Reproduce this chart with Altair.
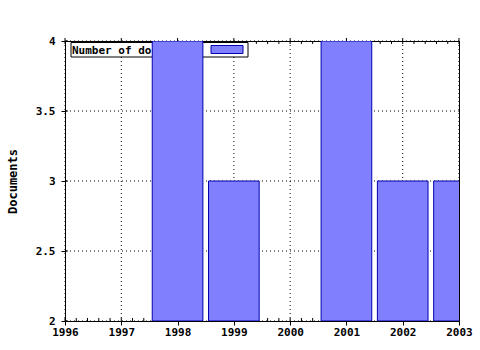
import altair as alt
import pandas as pd

years = [1998, 1999, 2001, 2002, 2003]
documents = [4, 3, 4, 3, 3]
x_ticks = [1996, 1997, 1998, 1999, 2000, 2001, 2002, 2003]
y_ticks = [2, 2.5, 3, 3.5, 4]
minor_x = [1996 + i * 0.2 for i in range(36) if i % 5 != 0]
legend_label = "Number of documents"

df = pd.DataFrame({"year": years, "documents": documents})
minor_df = pd.DataFrame({"m": minor_x})
xt_df = pd.DataFrame({"t": x_ticks})
yt_df = pd.DataFrame({"t": y_ticks})

FONT = "DejaVu Sans Mono"
xs = alt.Scale(domain=[1996, 2003], nice=False, zero=False)
ys = alt.Scale(domain=[2, 4], nice=False, zero=False)

XAX = alt.Axis(values=x_ticks, format="d", grid=False, domain=False,
               tickColor="black", tickSize=4,
               labelFont=FONT, labelFontWeight="bold", labelFontSize=11,
               labelColor="black", labelPadding=1, labelFlush=False,
               labelOverlap=False)
YAX = alt.Axis(values=y_ticks, format="~g", grid=False, domain=False,
               tickColor="black", tickSize=4,
               labelFont=FONT, labelFontWeight="bold", labelFontSize=11,
               labelColor="black", labelPadding=6,
               titleFont=FONT, titleFontWeight="bold", titleFontSize=12,
               titleColor="black", titlePadding=16)


def X(field):
    return alt.X(field, scale=xs, axis=XAX, title=None)


def Y(field):
    return alt.Y(field, scale=ys, axis=YAX, title="Documents")


W, H = 394, 280

grid_x = alt.Chart(xt_df).mark_rule(
    color="black", strokeDash=[1, 3], strokeWidth=1
).encode(x=X("t:Q"))

grid_y = alt.Chart(yt_df).mark_rule(
    color="black", strokeDash=[1, 3], strokeWidth=1
).encode(y=Y("t:Q"))

minor_bottom = alt.Chart(minor_df).mark_rule(color="black", strokeWidth=1).encode(
    x=X("m:Q"), y=alt.value(H), y2=alt.value(H - 3),
)
minor_top = alt.Chart(minor_df).mark_rule(color="black", strokeWidth=1).encode(
    x=X("m:Q"), y=alt.value(0), y2=alt.value(3),
)
major_top = alt.Chart(xt_df).mark_rule(color="black").encode(
    x=X("t:Q"), y=alt.value(-3), y2=alt.value(3),
)
major_bottom_in = alt.Chart(xt_df).mark_rule(color="black").encode(
    x=X("t:Q"), y=alt.value(H - 3), y2=alt.value(H),
)
major_left_in = alt.Chart(yt_df).mark_rule(color="black").encode(
    y=Y("t:Q"), x=alt.value(0), x2=alt.value(3),
)

leg_box = alt.Chart(pd.DataFrame({"a": [0]})).mark_rect(
    fill="white", stroke="black", strokeWidth=1
).encode(x=alt.value(6), x2=alt.value(183), y=alt.value(1.5), y2=alt.value(16))
leg_text = alt.Chart(pd.DataFrame({"label": [legend_label]})).mark_text(
    font=FONT, fontWeight="bold", fontSize=11, align="left", baseline="alphabetic",
    color="black"
).encode(text="label:N", x=alt.value(7), y=alt.value(13))
leg_swatch = alt.Chart(pd.DataFrame({"a": [0]})).mark_rect(
    fill="#8080ff", stroke="#0000b0", strokeWidth=1
).encode(x=alt.value(146), x2=alt.value(178), y=alt.value(4.5), y2=alt.value(12.5))

bars = alt.Chart(df).transform_calculate(
    x0="datum.year - 0.45", x1="datum.year + 0.45"
).mark_rect(fill="#8080ff", stroke="#0000b0", strokeWidth=1, clip=True).encode(
    x=X("x0:Q"),
    x2="x1:Q",
    y=Y("documents:Q"),
    y2=alt.datum(2),
)

chart = alt.layer(
    grid_x, grid_y, minor_bottom, minor_top, major_top, major_bottom_in,
    major_left_in, leg_box, leg_text, leg_swatch, bars
).properties(
    width=W, height=H,
    autosize=alt.AutoSizeParams(type="none"),
    padding={"left": 65, "top": 41, "right": 21, "bottom": 29},
    background="white",
).configure_view(stroke="black", strokeWidth=1)

chart.save("out.html", embed_options={"renderer": "svg", "actions": False})
